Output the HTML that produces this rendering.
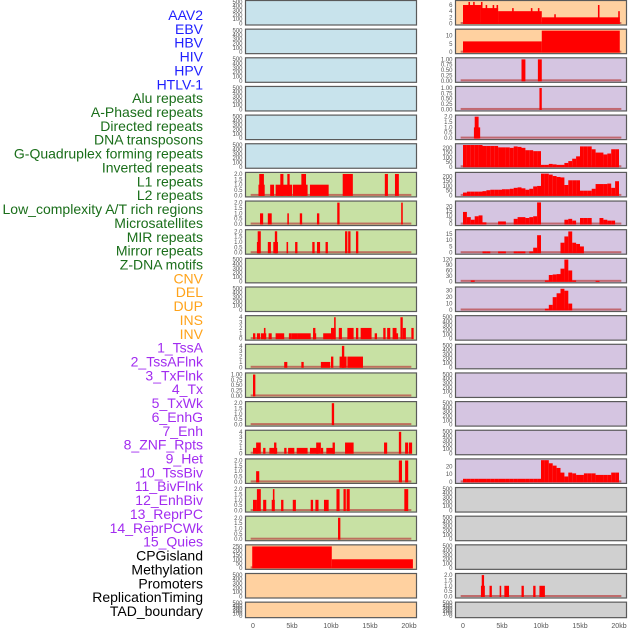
<!DOCTYPE html>
<html><head><meta charset="utf-8">
<style>
html,body{margin:0;padding:0;background:#fff;}
svg{display:block;}
.lab{font-family:"Liberation Sans",sans-serif;font-size:14px;}
.tk{font-family:"Liberation Sans",sans-serif;font-size:6px;fill:#555;}
.xt{font-family:"Liberation Sans",sans-serif;font-size:7px;fill:#555;}
</style></head>
<body>
<svg id="chart" width="630" height="630" viewBox="0 0 630 630" xmlns="http://www.w3.org/2000/svg"></svg>
<script>
// ---- data ----
const trackNames = ["AAV2","EBV","HBV","HIV","HPV","HTLV-1","Alu repeats","A-Phased repeats","Directed repeats","DNA transposons","G-Quadruplex forming repeats","Inverted repeats","L1 repeats","L2 repeats","Low_complexity A/T rich regions","Microsatellites","MIR repeats","Mirror repeats","Z-DNA motifs","CNV","DEL","DUP","INS","INV","1_TssA","2_TssAFlnk","3_TxFlnk","4_Tx","5_TxWk","6_EnhG","7_Enh","8_ZNF_Rpts","9_Het","10_TssBiv","11_BivFlnk","12_EnhBiv","13_ReprPC","14_ReprPCWk","15_Quies","CPGisland","Methylation","Promoters","ReplicationTiming","TAD_boundary"];
const trackGroups = ["v","v","v","v","v","v","r","r","r","r","r","r","r","r","r","r","r","r","r","c","c","c","c","c","s","s","s","s","s","s","s","s","s","s","s","s","s","s","s","o","o","o","o","o"];
const xTickLabels = ["0","5kb","10kb","15kb","20kb"];
const xTickValues = [0,5,10,15,20];
const emptyTicks = ["0","100","200","300","400","500"];

// left panels: bars [startKb, endKb, height]
const leftBg = ["b","b","b","b","b","b","g","g","g","g","g","g","g","g","g","g","g","g","g","p","p","p"];
const leftTicks = [null,null,null,null,null,null,
 ["0.0","0.5","1.0","1.5","2.0"],["0.0","0.5","1.0","1.5","2.0"],["0.0","0.5","1.0","1.5","2.0"],null,null,
 ["0","1","2","3","4"],["0","1","2","3","4"],["0.00","0.25","0.50","0.75","1.00"],["0.0","0.5","1.0","1.5","2.0"],
 ["0","1","2","3","4"],["0.0","0.5","1.0","1.5","2.0"],["0.0","0.5","1.0","1.5","2.0"],["0.0","0.5","1.0","1.5","2.0"],
 ["0","50","100","150","200","250"],null,null];
const leftBars = [[],[],[],[],[],[],
 [[0.7,1.5,1],[0.8,1.4,2],[2.2,2.7,1],[2.9,5.0,1],[3.5,3.9,2],[4.4,4.7,2],[5.1,7.0,1],[6.2,6.8,2],[7.3,9.7,1],[11.5,12.8,2],[16.9,17.3,2],[18.2,18.7,2]],
 [[0.9,1.3,1],[1.9,2.4,1],[4.4,4.6,1],[6.0,6.3,1],[8.2,8.5,1],[10.8,11.1,2],[19.0,19.2,2]],
 [[0.5,0.9,1],[0.6,1.0,2],[1.9,2.3,1],[2.6,3.2,1],[2.8,3.1,2],[4.3,4.5,1],[5.4,5.7,1],[7.6,7.9,1],[8.2,8.6,1],[9.3,9.6,1],[11.8,12.1,2],[12.2,12.5,2],[13.2,13.5,2]],
 [],[],
 [[0,0.3,1],[0.5,0.9,1],[1.0,1.7,1],[1.4,1.6,2],[2.0,2.4,1],[2.9,4.0,1],[4.6,4.9,1],[4.9,5.7,1],[5.7,7.4,1],[7.7,8.0,2],[7.7,8.1,1],[9.0,10.3,1],[10.0,10.6,2],[10.4,10.6,4],[11.0,11.4,2],[12.1,12.9,2],[13.2,13.5,2],[13.8,15.2,2],[15.6,15.9,1],[16.7,17.0,2],[17.2,17.6,2],[17.9,18.4,2],[18.4,18.6,1],[18.9,19.2,4],[19.2,19.6,2],[20.3,20.6,2]],
 [[4.0,4.4,1],[6.2,6.5,1],[8.7,9.9,1],[10.0,10.3,2],[11.1,12.0,2],[11.4,11.7,4],[12.1,14.1,2]],
 [[0,0.3,1]],
 [[10.1,10.4,2]],
 [[0,0.6,1],[0.4,1.0,2],[1.3,1.6,1],[2.1,3.1,1],[2.7,3.0,2],[4.0,4.3,1],[4.5,5.3,1],[5.6,7.0,1],[7.3,8.4,1],[8.1,8.4,2],[8.4,8.7,2],[8.7,9.0,1],[9.4,10.4,1],[10.2,10.5,2],[11.8,12.9,2],[16.8,17.2,2],[18.7,19.0,4],[19.5,19.9,2],[20.0,20.4,2]],
 [[0.4,0.8,1],[18.7,19.1,2],[19.5,19.9,2]],
 [[0,0.5,1],[0.5,1.0,2],[1.3,1.7,1],[2.4,2.8,1],[2.55,2.75,2],[3.6,3.9,1],[5.1,5.5,1],[7.4,7.7,1],[8.0,8.4,1],[9.1,9.7,1],[10.7,11.1,2],[11.6,11.9,2],[12.0,12.4,2],[19.4,19.9,2]],
 [[10.9,11.2,2]],
 [[-0.1,10.1,250],[10.1,20.5,100]],
 [],[]];

// right panels
const rightBg = ["p","p","l","l","l","l","l","l","l","l","l","l","l","l","l","l","l","y","y","y","y","y"];
const rightTicks = [["0","2","4","6"],["0","5","10"],["0.00","0.25","0.50","0.75","1.00"],["0.00","0.25","0.50","0.75","1.00"],["0.0","0.5","1.0","1.5","2.0"],
 ["0","50","100","150","200"],["0","50","100","150","200"],["0","5","10","15","20"],["0","5","10","15"],["0","30","60","90","120"],["0","10","20","30"],
 null,null,null,null,null,["0","10","20"],null,null,null,["0.0","0.5","1.0","1.5","2.0"],null];
const rightYmax = [7.3,13.6,1.05,1.05,2.1,238,238,26,18,124,35,0,0,0,0,0,29,0,0,0,2.1,0];
// 0.5kb-bin profiles (40 bins, 0..20kb)
const aluBins = [230,230,230,230,230,220,220,220,220,205,205,205,200,215,210,200,175,175,165,165,20,20,30,25,20,20,40,60,85,110,215,215,215,185,150,150,130,140,185,185];
const apBins = [30,40,40,40,40,45,55,60,60,60,65,65,70,80,85,75,60,70,95,100,230,230,220,205,195,190,110,160,160,160,50,50,50,70,120,120,120,125,80,150];
const drBins = [14,8,5,9,10,2,0,0,0,3,3,0,0,6,8,8,7,8,9,25,0,0,0,0,0,0,5,6,4,0,7,7,7,0,0,7,5,4,4,0];
const dnaBins = [0,0,0,0,0,1,1,0,0,1,1,0,0,1,1,1,0,1,4,14,0,0,0,0,0,8,13,17,8,7,5,0,0,0,0,0,0,0,0,0];
const gqBins = [0,0,5,0,0,0,0,0,0,0,0,0,0,0,0,0,0,0,0,0,0,5,35,38,40,70,120,60,5,0,0,0,0,0,3,0,0,0,0,0];
const invBins = [0,0,0,0,0,0,0,0,0,0,0,0,0,0,0,0,0,0,0,0,0,2,8,20,26,33,30,10,0,0,0,0,0,0,0,0,0,0,0,0];
const tssBivBins = [4,4,4,4,4,4,4,4,4,4,4,4,4,4,4,4,4,4,4,4,28,28,24,21,18,12,7,12,11,9,9,11,11,11,9,9,9,9,12,12];
const aavBars = [[0,2.3,6],[0.7,0.9,7],[1.3,1.5,7],[2.3,2.5,7],[2.5,4.5,5],[2.9,3.1,6],[3.8,4.0,6],[4.3,4.5,6],[4.5,10.1,4],[6.3,6.5,5],[8.7,8.9,5],[9.6,9.8,5],[10.1,20.1,2],[11.7,11.9,3],[17.3,17.5,6],[19.9,20.1,4]];
const ebvBars = [[0,10.1,6.5],[10.1,20.1,13]];
const hivBars = [[7.5,8.0,1],[9.6,10.1,1]];
const hpvBars = [[9.8,10.1,1]];
const htlvBars = [[1.4,2.2,1],[1.5,2.0,2]];
const promBars = [[2.3,2.8,1],[2.4,2.7,2],[3.4,3.7,1],[4.7,4.9,1],[5.3,5.9,1],[7.5,7.8,1],[9.0,9.3,1],[9.8,10.5,1]];

// ---- rendering ----
const NS = "http://www.w3.org/2000/svg";
const svg = document.getElementById("chart");
const colors = {b:"#c8e3ec",g:"#c8e1a4",p:"#ffd1a0",l:"#d5c5e1",y:"#d0d0d0"};
const labCol = {v:"#1f1fff",r:"#1a6e1a",c:"#ffa31a",s:"#a22cf0",o:"#000"};
function mk(tag, attrs){ const e=document.createElementNS(NS,tag); for(const k in attrs) e.setAttribute(k,attrs[k]); svg.appendChild(e); return e; }
function binsToBars(b){ const out=[]; b.forEach((h,i)=>{ if(h>0) out.push([i*0.5,(i+1)*0.5,h]); }); return out; }
const rightBars = [aavBars,ebvBars,hivBars,hpvBars,htlvBars,binsToBars(aluBins),binsToBars(apBins),binsToBars(drBins),binsToBars(dnaBins),binsToBars(gqBins),binsToBars(invBins),[],[],[],[],[],binsToBars(tssBivBins),[],[],[],promBars,[]];

trackNames.forEach((n,i)=>{
  const t=mk("text",{x:203,y:15+i*13.86+5,"text-anchor":"end",class:"lab",fill:labCol[trackGroups[i]]});
  t.textContent=n;
  
  
});

function rowTop(i){ return 0.5+28.65*i; }
function rowH(i){ return i===21?15.5:24.5; }

function drawPanel(side,i,bg,ticks,bars,ymaxIn){
  const x0 = side==="L"?245.5:455.5, w=171;
  const xs = side==="L"?253:463;
  const xk = kb => xs + kb*7.8;
  const top=rowTop(i), h=rowH(i), bot=top+h-1.5;
  const r=mk("rect",{x:x0,y:top,width:w,height:h,fill:colors[bg],stroke:"#5a5a5a","stroke-width":1.2});
  
  
  const tl = ticks || emptyTicks;
  const topTick = parseFloat(tl[tl.length-1]);
  const ymax = ymaxIn || (ticks? topTick*1.05 : 520);
  const yv = v => bot - v/ymax*(h-2);
  tl.forEach(s=>{
    const t=mk("text",{x:x0-3,y:yv(parseFloat(s))+2,"text-anchor":"end",class:"tk"});
    t.textContent=s;
    
    
  });
  if(bars.length){
    const bl=mk("rect",{x:xk(-0.3),y:bot-1.5,width:xk(20.3)-xk(-0.3),height:2,fill:"#b84040",opacity:0.7});
    
    
  }
  bars.forEach(b=>{
    const yy=Math.max(yv(b[2]),top+0.5);
    const e=mk("rect",{x:xk(b[0]),y:yy,width:Math.max(xk(b[1])-xk(b[0]),1),height:bot-yy+0.5,fill:"#ff0000"});
    
    
  });
}
for(let i=0;i<22;i++){
  drawPanel("L",i,leftBg[i],leftTicks[i],leftBars[i],null);
  drawPanel("R",i,rightBg[i],rightTicks[i],rightBars[i],rightYmax[i]||null);
}
["L","R"].forEach(side=>{
  const xs = side==="L"?253:463;
  xTickValues.forEach((v,j)=>{
    const t=mk("text",{x:xs+v*7.8,y:628,"text-anchor":"middle",class:"xt"});
    t.textContent=xTickLabels[j];
    
    
  });
});
</script>
</body></html>
